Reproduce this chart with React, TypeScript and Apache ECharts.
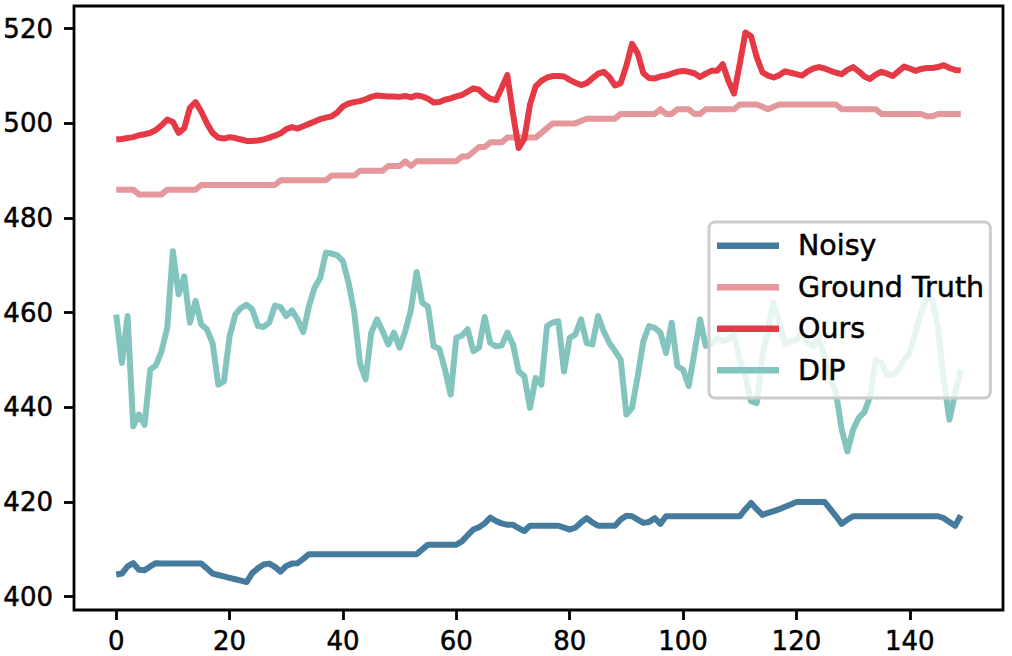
import React, { useEffect, useRef } from "react";
import * as echarts from "echarts";

const seriesNames = ["Noisy", "Ground Truth", "Ours", "DIP"];
const seriesColors = ["#457b9d", "#e5989b", "#e63946", "#83c5be"];

const xTicks = [0, 20, 40, 60, 80, 100, 120, 140];
const yTicks = [400, 420, 440, 460, 480, 500, 520];

const noisy = [
  404.7, 404.9, 406.4, 407.1, 405.7, 405.6, 406.4, 407.1, 407, 407,
  407, 407, 407, 407, 407, 407, 406, 404.9, 404.6, 404.3,
  404.0, 403.7, 403.4, 403.1, 405.0, 406.0, 406.8, 407.0, 406.3, 405.3,
  406.5, 407.0, 407.1, 408.0, 409, 409, 409, 409, 409, 409,
  409, 409, 409, 409, 409, 409, 409, 409, 409, 409,
  409, 409, 409, 409, 410, 411, 411, 411, 411, 411,
  411, 411.7, 413, 414.2, 414.7, 415.5, 416.7, 416, 415.5, 415.2,
  415.2, 414.5, 413.9, 415, 415, 415, 415, 415, 415, 414.6,
  414.2, 414.6, 415.7, 416.6, 415.7, 415, 415, 415, 415, 416.3,
  417.1, 417, 416.3, 415.6, 415.8, 416.6, 415.4, 417, 417, 417,
  417, 417, 417, 417, 417, 417, 417, 417, 417, 417,
  417, 418.5, 419.8, 418.5, 417.3, 417.7, 418.1, 418.5, 419, 419.5,
  420, 420, 420, 420, 420, 420, 418.5, 417, 415.4, 416.3,
  417, 417, 417, 417, 417, 417, 417, 417, 417, 417,
  417, 417, 417, 417, 417, 417, 416.6, 415.8, 415, 417.2,
];

const groundTruth = [
  486, 486, 486, 486, 485, 485, 485, 485, 485, 486,
  486, 486, 486, 486, 486, 487, 487, 487, 487, 487,
  487, 487, 487, 487, 487, 487, 487, 487, 487, 488,
  488, 488, 488, 488, 488, 488, 488, 488, 489, 489,
  489, 489, 489, 490, 490, 490, 490, 490, 491, 491,
  491, 492, 491, 492, 492, 492, 492, 492, 492, 492,
  492, 493, 493, 494, 495, 495, 496, 496, 496, 497,
  497, 497, 497, 497, 497, 498, 499, 500, 500, 500,
  500, 500, 500.5, 501, 501, 501, 501, 501, 501, 502,
  502, 502, 502, 502, 502, 502, 503, 502, 502, 503,
  503, 503, 502, 502, 503, 503, 503, 503, 503, 503,
  504, 504, 504, 504, 503.5, 503, 503.5, 504, 504, 504,
  504, 504, 504, 504, 504, 504, 504, 504, 503, 503,
  503, 503, 503, 503, 503, 502, 502, 502, 502, 502,
  502, 502, 502, 501.5, 501.5, 502, 502, 502, 502, 502,
];

const ours = [
  496.6, 496.7, 496.9, 497.1, 497.5, 497.7, 498.0, 498.6, 499.6, 500.8,
  500.3, 498.0, 499.0, 503.3, 504.5, 502.5, 500.0, 498.0, 497.0, 496.8,
  497.1, 496.9, 496.6, 496.3, 496.3, 496.4, 496.6, 497.0, 497.4, 497.9,
  498.8, 499.2, 498.9, 499.4, 499.9, 500.4, 500.9, 501.2, 501.5, 502.3,
  503.6, 504.2, 504.5, 504.7, 505.1, 505.6, 505.9, 505.8, 505.7, 505.7,
  505.6, 505.8, 505.5, 505.9, 505.7, 505.2, 504.4, 504.5, 505.0, 505.3,
  505.7, 506.0, 506.7, 507.4, 507.1, 506.0, 505.2, 504.9, 507.5, 510.2,
  502.0, 494.8, 496.7, 504.0, 507.8, 509.0, 509.7, 510.0, 510.0, 509.9,
  509.2, 508.6, 508.1, 508.5, 509.5, 510.5, 510.9, 509.8, 508.0, 508.5,
  512.2, 516.8, 514.8, 510.6, 509.6, 509.5, 509.9, 510.1, 510.5, 510.9,
  511.1, 510.9, 510.6, 509.8, 510.5, 511.1, 511.1, 512.5, 509.0, 506.3,
  512.5, 519.2, 518.4, 514.0, 510.8, 510.1, 509.7, 510.2, 511.0, 510.7,
  510.4, 510.1, 511.0, 511.6, 511.9, 511.6, 511.1, 510.7, 510.4, 511.3,
  511.9, 511.0, 509.9, 509.4, 510.3, 510.9, 510.5, 510.0, 511.0, 512.0,
  511.6, 511.1, 511.5, 511.7, 511.7, 511.9, 512.3, 511.7, 511.3, 511.2,
];

const dip = [
  459.6, 449.4, 459.3, 436.0, 438.5, 436.3, 448.0, 448.9, 451.9, 456.8,
  473.0, 463.9, 467.7, 457.9, 462.5, 457.5, 456.5, 453.6, 444.8, 445.5,
  455.0, 459.6, 461.0, 461.7, 460.7, 457.2, 457.0, 457.9, 461.5, 461.2,
  459.3, 460.5, 458.6, 455.9, 461.4, 465.3, 467.4, 472.7, 472.5, 472.1,
  470.9, 466.3, 460.0, 449.4, 445.9, 455.8, 458.6, 456.1, 453.3, 455.8,
  452.6, 456.1, 460.7, 468.6, 462.1, 461.3, 452.9, 452.4, 448.0, 442.7,
  454.7, 455.2, 456.5, 451.9, 452.6, 459.1, 453.6, 452.9, 453.1, 455.8,
  453.3, 447.6, 446.6, 439.9, 446.2, 444.8, 457.2, 457.9, 458.2, 447.6,
  454.7, 455.4, 458.6, 453.6, 453.3, 459.3, 456.1, 453.6, 451.9, 450.1,
  438.5, 439.9, 446.6, 454.0, 457.2, 456.8, 455.8, 451.5, 457.9, 448.7,
  448.0, 444.5, 451.5, 458.6, 453.0, 453.5, 454.5, 454.0, 454.5, 455.4,
  450.1, 446.6, 441.3, 440.9, 450.8, 456.5, 462.1, 457.9, 453.3, 454.0,
  454.3, 455.8, 453.6, 452.9, 454.5, 450.8, 446.2, 443.0, 435.3, 430.7,
  435.3, 437.8, 439.0, 442.3, 450.1, 449.4, 446.9, 446.9, 448.0, 450.1,
  451.5, 455.8, 460.0, 463.2, 462.8, 456.5, 445.9, 437.4, 443.0, 448.0,
];

const allValues = [noisy, groundTruth, ours, dip];

const FONT = "'DejaVu Sans', sans-serif";

export default function App() {
  const ref = useRef<HTMLDivElement>(null);

  useEffect(() => {
    if (!ref.current) return;
    const chart = echarts.init(ref.current, null, { renderer: "svg" });
    const series = seriesNames.map((name, k) => ({
      name,
      type: "line",
      data: allValues[k].map((v, i) => [i, v]),
      showSymbol: false,
      symbol: "none",
      color: seriesColors[k],
      lineStyle: { width: 6, color: seriesColors[k], join: "round" },
      z: 2,
      zlevel: 0,
    }));
    const labelStyle = {
      fontSize: 26,
      lineHeight: 26,
      fontFamily: FONT,
      color: "#000",
      textBorderColor: "#000",
      textBorderWidth: 0.5,
    };
    chart.setOption({
      animation: false,
      backgroundColor: "#ffffff",
      grid: {
        left: 74,
        right: 9,
        top: 6,
        bottom: 46,
        show: true,
        borderColor: "#000000",
        borderWidth: 2.8,
        backgroundColor: "transparent",
      },
      xAxis: {
        type: "value",
        min: -7.45,
        max: 156.45,
        splitLine: { show: false },
        axisLine: { show: false, onZero: false },
        axisTick: {
          show: true,
          customValues: xTicks,
          length: 10,
          lineStyle: { color: "#000", width: 2.8 },
        },
        axisLabel: { ...labelStyle, customValues: xTicks, margin: 18 },
      },
      yAxis: {
        type: "value",
        min: 397.2,
        max: 524.8,
        splitLine: { show: false },
        axisLine: { show: false, onZero: false },
        axisTick: {
          show: true,
          customValues: yTicks,
          length: 10,
          lineStyle: { color: "#000", width: 2.8 },
        },
        axisLabel: { ...labelStyle, customValues: yTicks, margin: 21 },
      },
      legend: {
        orient: "vertical",
        left: 709,
        top: 222,
        z: 20,
        data: seriesNames,
        icon: "rect",
        itemWidth: 62,
        itemHeight: 6.5,
        itemGap: 12,
        padding: [9, 6, 13, 8],
        backgroundColor: "rgba(255,255,255,0.8)",
        borderColor: "#cccccc",
        borderWidth: 3,
        borderRadius: 6,
        textStyle: {
          fontSize: 28.5,
          lineHeight: 28.5,
          fontFamily: FONT,
          color: "#000",
          textBorderColor: "#000",
          textBorderWidth: 0.5,
          padding: [0, 0, 0, 14],
        },
      },
      series,
    });
    return () => chart.dispose();
  }, []);

  return (
    <div
      ref={ref}
      style={{ position: "absolute", left: 0, top: 0, width: 1012, height: 656 }}
    />
  );
}
